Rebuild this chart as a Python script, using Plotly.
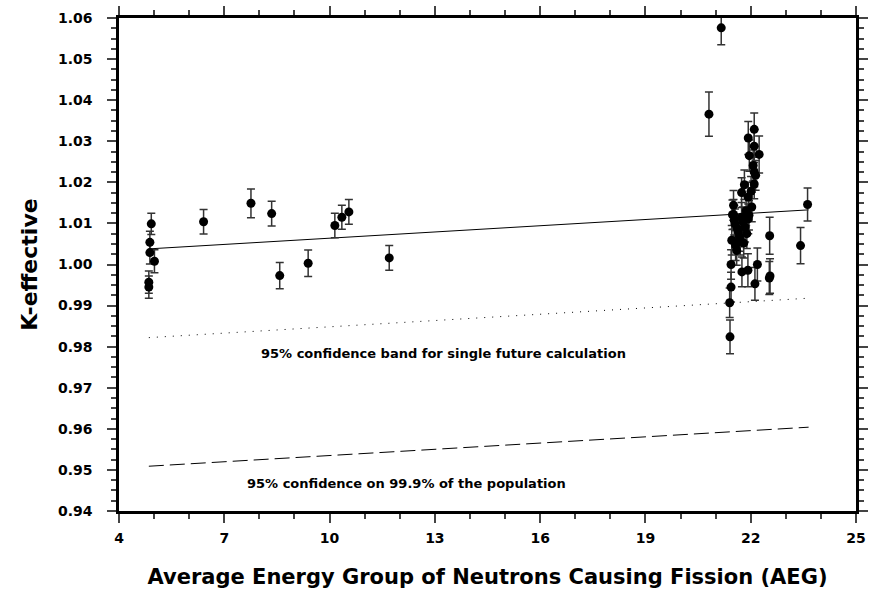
import plotly.graph_objects as go

# Measured data: average energy group (AEG), k-effective and 1-sigma uncertainty
aeg = [4.92, 4.88, 4.88, 5.01, 4.85, 4.85, 6.41, 7.76, 8.35, 8.58, 9.39, 10.15, 10.35, 10.55, 11.70,
       20.81, 21.16,
       22.10, 21.93, 22.10, 21.96, 22.24, 22.07, 22.10, 22.14, 21.82, 22.10, 21.74, 22.01,
       21.93, 21.51, 22.03, 21.51, 21.74, 21.93, 21.55, 21.84, 21.65, 21.89, 21.46, 21.70,
       21.60, 21.78, 21.62, 21.87, 21.57, 21.68, 21.80, 21.95, 21.53,
       21.44, 21.75, 21.92, 22.19, 22.12, 21.44, 21.40, 21.41, 21.48,
       22.54, 22.55, 22.53, 23.42, 23.62]
keff = [1.0099, 1.0054, 1.0029, 1.0008, 0.9957, 0.9945, 1.0104, 1.0149, 1.0124, 0.9973, 1.0003, 1.0095, 1.0115, 1.0128, 1.0016,
        1.0366, 1.0576,
        1.0329, 1.0308, 1.0288, 1.0265, 1.0268, 1.0241, 1.0225, 1.0217, 1.0194, 1.0196, 1.0175, 1.0178,
        1.0164, 1.0144, 1.0140, 1.0122, 1.0115, 1.0111, 1.0099, 1.0091, 1.0079, 1.0075, 1.0059, 1.0059,
        1.0034, 1.0104, 1.0087, 1.0131, 1.0046, 1.0068, 1.0052, 1.0120, 1.0108,
        1.0000, 0.9982, 0.9986, 1.0000, 0.9953, 0.9945, 0.9907, 0.9824, 1.0121,
        1.0070, 0.9972, 0.9967, 1.0046, 1.0146]
sigma = [0.0026, 0.0027, 0.0028, 0.0028, 0.0027, 0.0027, 0.0030, 0.0035, 0.0030, 0.0032, 0.0032, 0.0030, 0.0029, 0.0030, 0.0030,
         0.0054, 0.0041,
         0.0040, 0.0040, 0.0040, 0.0038, 0.0045, 0.0038, 0.0036, 0.0036, 0.0036, 0.0036, 0.0036, 0.0036,
         0.0036, 0.0036, 0.0036, 0.0036, 0.0036, 0.0036, 0.0036, 0.0036, 0.0036, 0.0036, 0.0036, 0.0036,
         0.0036, 0.0036, 0.0036, 0.0036, 0.0036, 0.0036, 0.0036, 0.0036, 0.0036,
         0.0036, 0.0036, 0.0040, 0.0040, 0.0040, 0.0036, 0.0036, 0.0041, 0.0036,
         0.0045, 0.0042, 0.0040, 0.0044, 0.0040]

# Regression line and lower tolerance limits (end points)
line_x = [4.85, 23.65]
fit_y = [1.0038, 1.0133]
band_y = [0.9822, 0.9918]
pop_y = [0.9509, 0.9604]

x_ticks = [4, 7, 10, 13, 16, 19, 22, 25]
y_ticks = [0.94, 0.95, 0.96, 0.97, 0.98, 0.99, 1.00, 1.01, 1.02, 1.03, 1.04, 1.05, 1.06]

band_label = "95% confidence band for single future calculation"
pop_label = "95% confidence on 99.9% of the population"

FONT = "DejaVu Sans, Liberation Sans, Arial, sans-serif"

fig = go.Figure()
fig.add_trace(go.Scatter(x=line_x, y=fit_y, mode="lines",
                         line=dict(color="black", width=1), showlegend=False))
fig.add_trace(go.Scatter(x=line_x, y=band_y, mode="lines",
                         line=dict(color="black", width=1, dash="1px,7px"), showlegend=False))
fig.add_trace(go.Scatter(x=line_x, y=pop_y, mode="lines",
                         line=dict(color="black", width=1, dash="15px,6px"), showlegend=False))
fig.add_trace(go.Scatter(x=aeg, y=keff, mode="markers",
                         marker=dict(color="black", size=9),
                         error_y=dict(type="data", array=sigma, visible=True,
                                      color="#333333", thickness=1.5, width=4),
                         showlegend=False))

fig.add_annotation(x=443, y=353, xref="paper", yref="paper", text=band_label, showarrow=False)
fig.add_annotation(x=406, y=483, xref="paper", yref="paper", text=pop_label, showarrow=False)

axis_common = dict(showline=True, linecolor="black", linewidth=2.5, mirror="allticks",
                   ticks="outside", tickcolor="#444444", tickwidth=1.5, ticklen=9,
                   showgrid=False, zeroline=False, automargin=False,
                   tickfont=dict(family=FONT, size=14, color="black", weight="bold"))

fig.update_xaxes(range=[4, 25], tickvals=x_ticks, ticktext=[str(v) for v in x_ticks],
                 minor=dict(dtick=1, tick0=4, ticks="outside", ticklen=5, tickcolor="#444444", tickwidth=1.5),
                 ticklabelstandoff=3,
                 title=dict(text="Average Energy Group of Neutrons Causing Fission (AEG)",
                            font=dict(family=FONT, size=21, color="black", weight="bold"), standoff=25),
                 **axis_common)
fig.update_yaxes(range=[0.94, 1.06], tickvals=y_ticks, ticktext=["%.2f" % v for v in y_ticks],
                 minor=dict(dtick=0.0025, tick0=0.94, ticks="outside", ticklen=5, tickcolor="#444444", tickwidth=1.5),
                 ticklabelstandoff=12,
                 title=dict(text="K-effective",
                            font=dict(family=FONT, size=22, color="black", weight="bold"), standoff=15),
                 **axis_common)

fig.update_layout(width=869, height=593,
                  margin=dict(l=118.5, r=13, t=17.5, b=82, autoexpand=False),
                  paper_bgcolor="white", plot_bgcolor="white",
                  font=dict(family=FONT, color="black"))

# convert annotation pixel positions to paper coords
L, R, T, B = 118.5, 869 - 13, 17.5, 593 - 82
for ann in fig.layout.annotations:
    px, py = ann.x, ann.y
    ann.x = (px - L) / (R - L)
    ann.y = (B - py) / (B - T)
    ann.xanchor = "center"
    ann.yanchor = "middle"
    ann.font = dict(family=FONT, size=13, color="black", weight="bold")

fig.write_html("out.html")
